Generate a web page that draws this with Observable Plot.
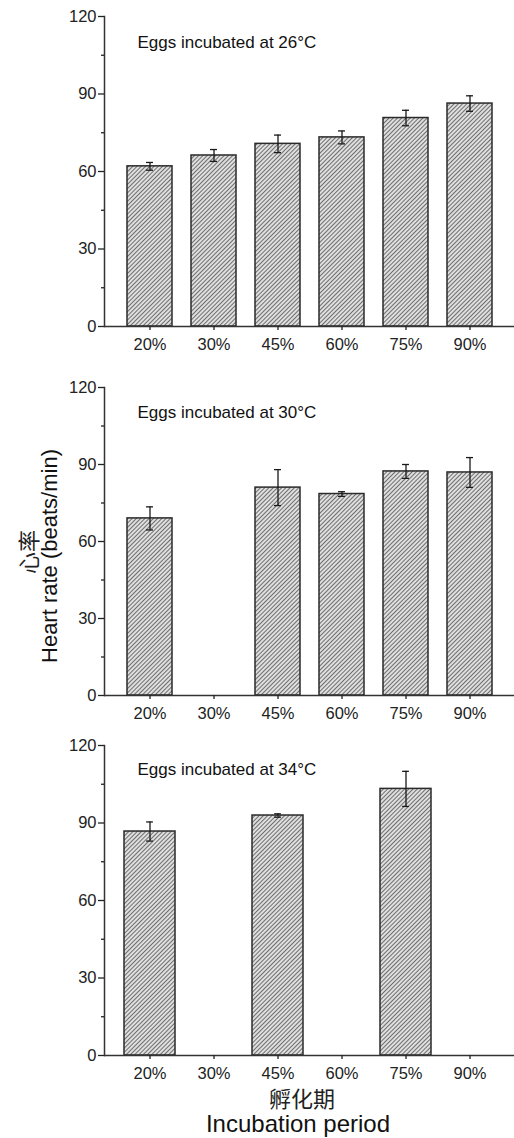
<!DOCTYPE html>
<html>
<head>
<meta charset="utf-8">
<script src="https://cdn.jsdelivr.net/npm/d3@7"></script>
<script src="https://cdn.jsdelivr.net/npm/@observablehq/plot@0.6"></script>
<style>
  html, body { margin: 0; padding: 0; background: #fff; }
  #wrap { position: relative; width: 514px; height: 1138px; overflow: hidden; background: #fff; }
  #wrap svg.plot { display: block; }
  .t { position: absolute; white-space: nowrap; line-height: 1; color: #111; transform: translate(-50%, -50%); }
  .rot { transform: translate(-50%, -50%) rotate(-90deg); }
  .en { font-family: "Liberation Sans", Arial, sans-serif; font-size: 22px; }
  .en.big { font-size: 24px; }
  .zh { font-family: "Noto Sans CJK SC", sans-serif; font-size: 22px; color: #222; font-weight: 400; }
</style>
</head>
<body>
<svg width="0" height="0" style="position:absolute">
  <defs>
    <pattern id="hatch" patternUnits="userSpaceOnUse" width="3" height="3" patternTransform="rotate(45)">
      <rect width="3" height="3" fill="#ececec"></rect>
      <line x1="1.5" y1="0" x2="1.5" y2="3" stroke="#6e6e6e" stroke-width="1.2"></line>
    </pattern>
  </defs>
</svg>
<div id="wrap"></div>
<script>
// ---- data ----
const categories = ["20%", "30%", "45%", "60%", "75%", "90%"];
const labels = ["Eggs incubated at 26°C", "Eggs incubated at 30°C", "Eggs incubated at 34°C"];
const hr26 = [62.0, 66.2, 70.7, 73.2, 80.7, 86.3];
const err26 = [1.5, 2.3, 3.4, 2.5, 3.0, 3.0];
const hr30 = [69.0, null, 81.0, 78.5, 87.3, 86.9];
const err30 = [4.5, null, 7.0, 0.9, 2.7, 5.8];
const hr34 = [86.7, null, 92.9, null, 103.2, null];
const err34 = [3.7, null, 0.65, null, 6.8, null];
const yTicks = [0, 30, 60, 90, 120];
const yMinorTicks = [15, 45, 75, 105];
const yTitleZh = "心率";
const yTitleEn = "Heart rate (beats/min)";
const xTitleZh = "孵化期";
const xTitleEn = "Incubation period";

const wrap = document.getElementById("wrap");

function panel(values, errors, label, opt) {
  const data = categories.map((c, i) => ({cat: c, v: values[i], e: errors[i]})).filter(d => d.v != null);
  const bw = 64 * (1 - opt.pad);
  const capInset = (bw - 7) / 2;
  const svg = Plot.plot({
    width: 514,
    height: opt.height,
    marginTop: opt.marginTop,
    marginBottom: opt.marginBottom,
    marginLeft: 104,
    marginRight: 0,
    style: {fontFamily: "'Liberation Sans', Arial, sans-serif", fontSize: "16.5px", color: "#222", background: "transparent", overflow: "visible"},
    x: {domain: categories, range: [117.5, 501.5], paddingInner: opt.pad, paddingOuter: opt.pad / 2, label: null},
    y: {domain: [0, 120], label: null},
    marks: [
      Plot.barY(data, {x: "cat", y: "v", fill: "url(#hatch)", stroke: "#2a2a2a", strokeWidth: 1.5}),
      Plot.ruleX(data, {x: "cat", y1: d => d.v - d.e, y2: d => d.v + d.e, stroke: "#1a1a1a", strokeWidth: 1.3}),
      Plot.tickY(data, {x: "cat", y: d => d.v - d.e, insetLeft: capInset, insetRight: capInset, stroke: "#1a1a1a", strokeWidth: 1.3}),
      Plot.tickY(data, {x: "cat", y: d => d.v + d.e, insetLeft: capInset, insetRight: capInset, stroke: "#1a1a1a", strokeWidth: 1.3}),
      Plot.ruleY([0], {stroke: "#333", strokeWidth: 1.5}),
      Plot.frame({anchor: "left", stroke: "#333", strokeWidth: 1.5}),
      Plot.axisY({ticks: yTicks, tickSize: 6, tickPadding: 2, strokeWidth: 1.3, label: null}),
      Plot.axisY({ticks: yMinorTicks, tickSize: 3, tickFormat: () => "", strokeWidth: 1.3, label: null}),
      Plot.axisX({tickSize: 4, tickPadding: 8, strokeWidth: 1.3, label: null}),
      Plot.text([label], {frameAnchor: "top-left", dx: 33, dy: opt.textDy, textAnchor: "start", lineAnchor: "bottom", fontSize: 17, fill: "#111"})
    ]
  });
  svg.classList.add("plot");
  wrap.appendChild(svg);
}

panel(hr26, err26, labels[0], {height: 360, marginTop: 16, marginBottom: 34, pad: 0.297, textDy: 31});
panel(hr30, err30, labels[1], {height: 369, marginTop: 27, marginBottom: 34, pad: 0.297, textDy: 30});
panel(hr34, err34, labels[2], {height: 356, marginTop: 16, marginBottom: 30, pad: 0.2, textDy: 29});

function addText(txt, cls, x, y) {
  const d = document.createElement("div");
  d.className = "t " + cls;
  d.style.left = x + "px";
  d.style.top = y + "px";
  d.textContent = txt;
  wrap.appendChild(d);
}
addText(yTitleZh, "zh rot", 27, 552);
addText(yTitleEn, "en rot", 49.5, 556);
addText(xTitleZh, "zh", 302, 1097);
addText(xTitleEn, "en big", 298, 1124);
</script>
</body>
</html>
